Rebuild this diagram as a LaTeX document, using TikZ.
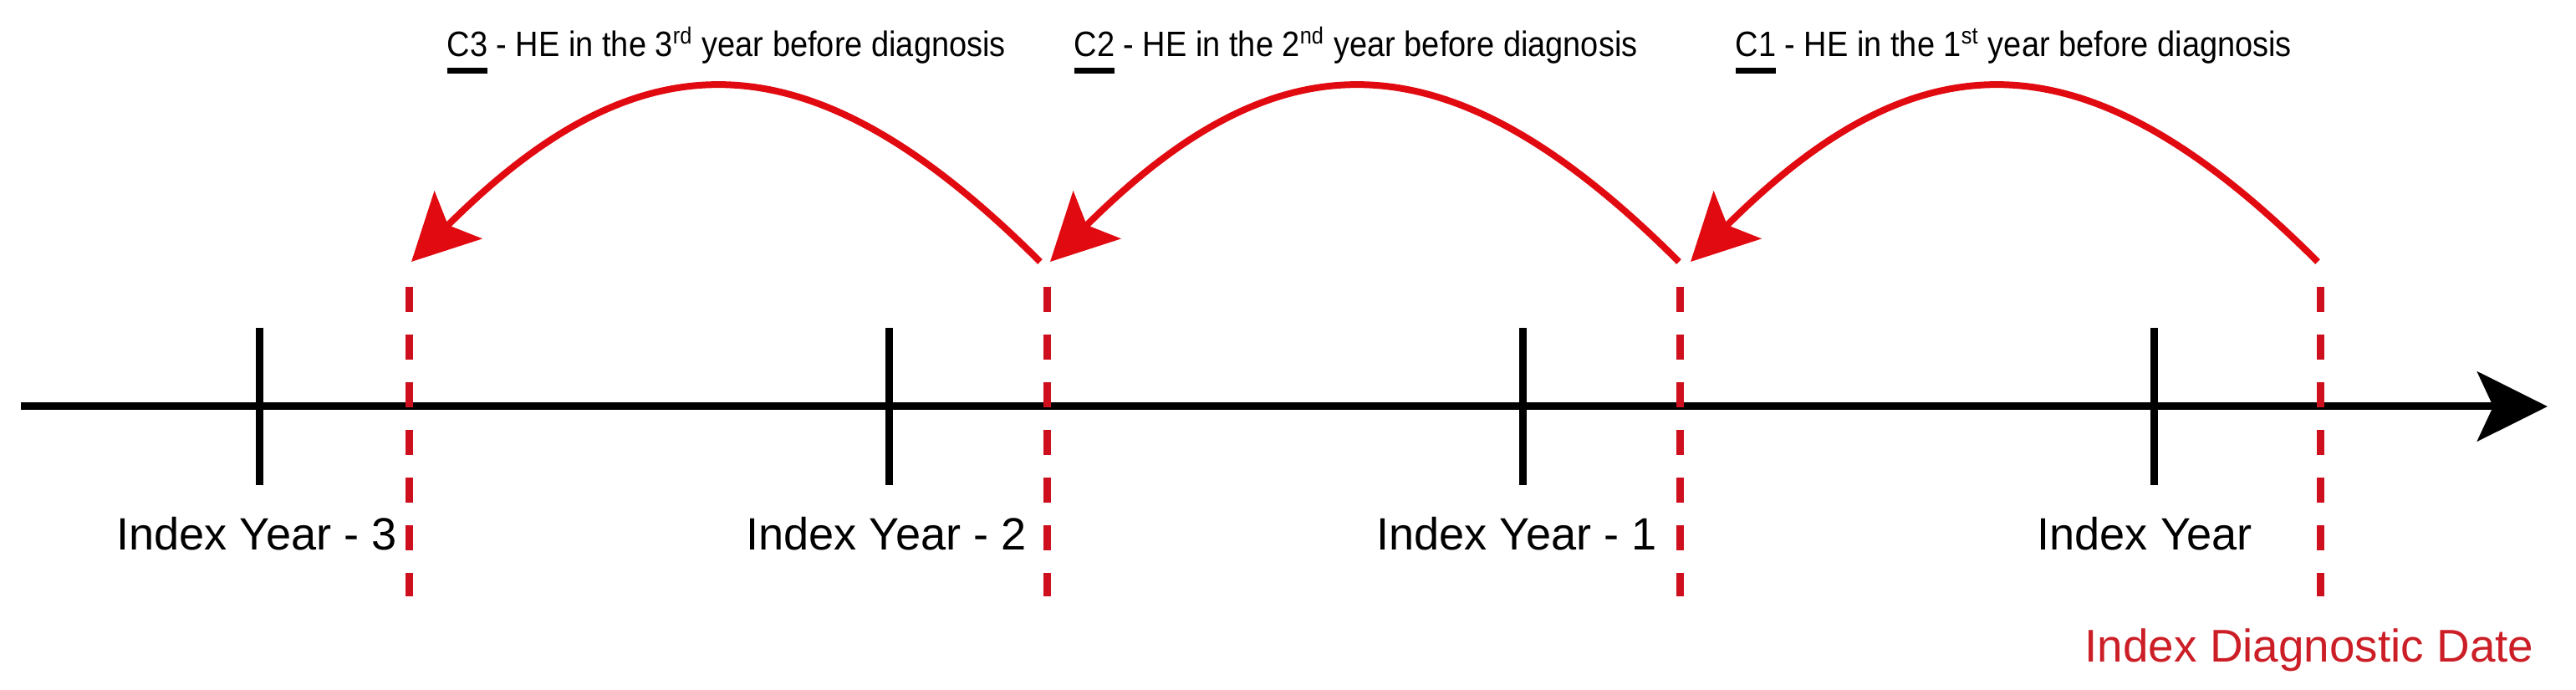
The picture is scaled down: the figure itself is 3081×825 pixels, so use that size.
\documentclass[tikz,border=0pt]{standalone}
\usepackage{fontspec}
\setmainfont{Liberation Sans}
\newfontfamily\toplabelfont[FakeStretch=0.9]{Liberation Sans}
\usetikzlibrary{arrows.meta}
\definecolor{arcred}{RGB}{224,10,16}
\definecolor{dashred}{RGB}{206,16,30}
\definecolor{textred}{RGB}{204,30,38}
\newcommand\culabel[1]{\setbox0\hbox{#1}\rlap{\rule[-5.7pt]{\wd0}{1.9pt}}\box0\relax}
\begin{document}
\begin{tikzpicture}[x=0.01cm,y=0.01cm,
  axisline/.style={line width=0.09cm, black},
  tickline/.style={line width=0.09cm, black},
  dashline/.style={line width=0.09cm, dashred, dash pattern=on 0.3cm off 0.27cm},
  hearc/.style={line width=0.08cm, arcred, -{Stealth[length=0.79cm,width=0.8cm,inset=0.17cm]}},
  yearlabel/.style={font=\fontsize{15.4}{18}\selectfont, anchor=base, inner sep=0pt},
  datelabel/.style={font=\fontsize{15.6}{18}\selectfont, text=textred, anchor=base, inner sep=0pt},
  toplabel/.style={font=\toplabelfont\fontsize{12}{14}\selectfont, anchor=base west, inner sep=0pt}]
\useasboundingbox (0,0) rectangle (3081,825);

% time axis
\coordinate (axL) at (25,339);
\coordinate (axR) at (3047,339);
\draw[axisline,-{Stealth[length=0.84cm,width=0.83cm,inset=0.19cm]}] (axL) -- (axR);

% year ticks
\foreach \n/\x in {t3/310, t2/1063, t1/1821, t0/2576}{
  \coordinate (\n top) at (\x,433);
  \coordinate (\n bot) at (\x,245);
  \draw[tickline] (\n top) -- (\n bot);
}

% dashed date markers
\foreach \n/\x in {d3/489, d2/1252, d1/2009, d0/2775}{
  \coordinate (\n top) at (\x,482);
  \coordinate (\n bot) at (\x,112);
  \draw[dashline] (\n top) -- (\n bot);
}

% arc end points
\coordinate (c1s) at (2772,512);
\coordinate (c1e) at (2022,512);
\coordinate (c2s) at (2008,512);
\coordinate (c2e) at (1256,512);
\coordinate (c3s) at (1244,512);
\coordinate (c3e) at (492,512);

\draw[hearc] (c1s) .. controls (2497,787) and (2297,787) .. (c1e);
\draw[hearc] (c2s) .. controls (1733,787) and (1531,787) .. (c2e);
\draw[hearc] (c3s) .. controls (969,787) and (767,787) .. (c3e);

% top labels
\node[toplabel] (lc3) at (534,757) {\culabel{C3} - HE in the 3\textsuperscript{rd} year before diagnosis};
\node[toplabel] (lc2) at (1284,757) {\culabel{C2} - HE in the 2\textsuperscript{nd} year before diagnosis};
\node[toplabel] (lc1) at (2075,757) {\culabel{C1} - HE in the 1\textsuperscript{st} year before diagnosis};

% year labels
\node[yearlabel] (y3) at (307,167) {Index Year - 3};
\node[yearlabel] (y2) at (1060,167) {Index Year - 2};
\node[yearlabel] (y1) at (1814,167) {Index Year - 1};
\node[yearlabel] (y0) at (2565,167) {Index Year};

% diagnostic date label
\node[datelabel] (dd) at (2762,33) {Index Diagnostic Date};
\end{tikzpicture}
\end{document}
